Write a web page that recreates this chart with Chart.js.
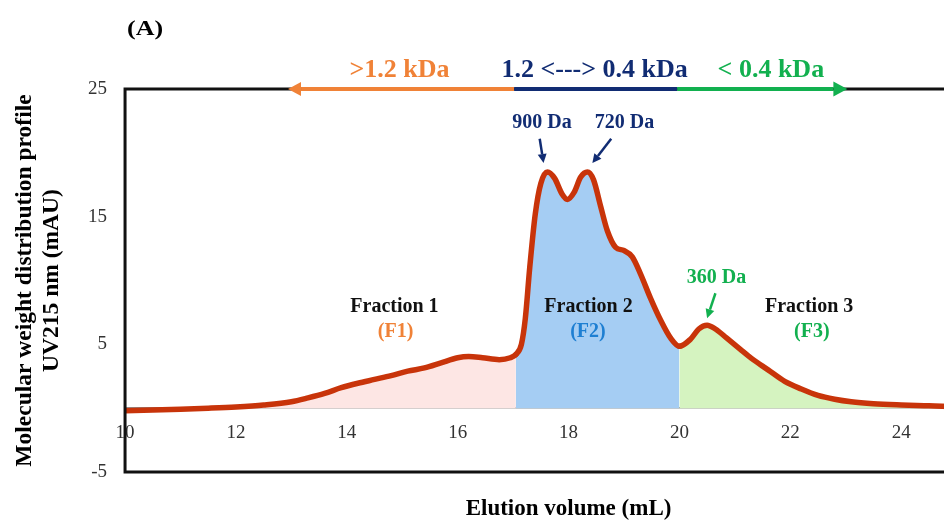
<!DOCTYPE html>
<html>
<head>
<meta charset="utf-8">
<script src="https://cdn.jsdelivr.net/npm/chart.js@4.4.1/dist/chart.umd.min.js"></script>
<style>
  html, body { margin: 0; padding: 0; overflow: hidden; background: #fff; }
  canvas { display: block; }
</style>
</head>
<body>
<canvas id="c" width="1030" height="521"></canvas>
<script>
const SERIF = "'Liberation Serif', 'Times New Roman', serif";

// Elution volume (mL) of each sample point
const elutionVolume = [
  10.0, 10.5, 11.0, 11.5, 12.0, 12.5, 13.0, 13.3, 13.6, 13.9,
  14.2, 14.5, 14.8, 15.1, 15.4, 15.7, 16.0, 16.2, 16.45, 16.75,
  16.95, 17.05, 17.15, 17.22, 17.3, 17.4, 17.5, 17.62, 17.75, 17.88,
  17.98, 18.1, 18.22, 18.34, 18.45, 18.58, 18.7, 18.85, 19.0, 19.15,
  19.3, 19.48, 19.66, 19.84, 20.0, 20.2, 20.35, 20.5, 20.65, 20.85,
  21.1, 21.3, 21.6, 21.9, 22.2, 22.5, 22.8, 23.1, 23.5, 24.0,
  24.5, 25.0, 25.5, 26.0
];

// UV215 absorbance (mAU) at each elution volume
const absorbance = [
  -0.2, -0.15, -0.08, 0.0, 0.1, 0.25, 0.5, 0.8, 1.15, 1.6,
  1.95, 2.25, 2.55, 2.9, 3.15, 3.55, 3.95, 4.05, 3.95, 3.8,
  3.95, 4.2, 5.0, 7.0, 11.0, 15.2, 17.6, 18.5, 18.0, 16.8,
  16.35, 16.9, 18.1, 18.5, 17.9, 15.8, 13.9, 12.6, 12.35, 11.85,
  10.5, 8.6, 6.9, 5.5, 4.85, 5.4, 6.2, 6.5, 6.2, 5.5,
  4.6, 3.9, 3.0, 2.1, 1.5, 1.0, 0.7, 0.5, 0.35, 0.25,
  0.18, 0.12, 0.1, 0.08
];

const xTickValues = [10, 12, 14, 16, 18, 20, 22, 24];
const yTickValues = [-5, 5, 15, 25];

// Fraction cut points (mL): F1 | F2 | F3
const fractionCuts = [17.05, 20.0];
const fractionNames = ['Fraction 1', 'Fraction 2', 'Fraction 3'];
const fractionCodes = ['(F1)', '(F2)', '(F3)'];

// Molecular weight ranges shown along the top edge
const rangeLabels = ['>1.2 kDa', '1.2 <---> 0.4 kDa', '< 0.4 kDa'];
const rangeBounds = [12.94, 17.02, 19.96, 23.03];

// Peak molecular weights
const peakLabels = ['900 Da', '720 Da', '360 Da'];

// ---- styling and annotation placement (data units) ----
const COLORS = {
  line: '#C8340A',
  fills: ['#FDE6E4', '#A5CDF3', '#D5F3C0'],
  codes: ['#F08237', '#1E7FD2', '#12B04F'],
  ranges: ['#F08237', '#112C73', '#12B04F'],
  peaks: ['#112C73', '#112C73', '#12B04F'],
  frame: '#111111',
  ticks: '#333333'
};
const fractionLabelPos = [[14.86, 7.95], [18.36, 7.95], [22.34, 7.9]];
const fractionCodePos = [[14.88, 6.0], [18.35, 6.0], [22.39, 6.0]];
const rangeLabelPos = [[14.95, 26.5], [18.47, 26.5], [21.65, 26.5]];
const peakLabelPos = [[17.52, 22.36], [19.01, 22.36], [20.67, 10.23]];
const peakArrows = [
  [[17.48, 21.1], [17.55, 19.2]],
  [[18.77, 21.1], [18.43, 19.2]],
  [[20.65, 9.0], [20.5, 7.05]]
];

function fractionIndex(x) {
  if (x < fractionCuts[0]) return 0;
  if (x < fractionCuts[1]) return 1;
  return 2;
}

function drawArrow(ctx, x1, y1, x2, y2, color, width, headLen, headHalf) {
  const ang = Math.atan2(y2 - y1, x2 - x1);
  const bx = x2 - headLen * Math.cos(ang);
  const by = y2 - headLen * Math.sin(ang);
  ctx.strokeStyle = color;
  ctx.fillStyle = color;
  ctx.lineWidth = width;
  ctx.lineCap = 'butt';
  ctx.beginPath();
  ctx.moveTo(x1, y1);
  ctx.lineTo(bx, by);
  ctx.stroke();
  ctx.beginPath();
  ctx.moveTo(x2, y2);
  ctx.lineTo(bx + headHalf * Math.sin(ang), by - headHalf * Math.cos(ang));
  ctx.lineTo(bx - headHalf * Math.sin(ang), by + headHalf * Math.cos(ang));
  ctx.closePath();
  ctx.fill();
}

function text(ctx, str, x, y, font, color) {
  ctx.font = font;
  ctx.fillStyle = color;
  ctx.textAlign = 'center';
  ctx.textBaseline = 'middle';
  ctx.fillText(str, x, y);
}

// Plot frame, range bar, peak callouts and fraction labels
const decorations = {
  id: 'decorations',
  afterDatasetsDraw(chart) {
    const { ctx, chartArea: a } = chart;
    ctx.save();
    ctx.strokeStyle = COLORS.frame;
    ctx.lineWidth = 3;
    ctx.beginPath();
    ctx.moveTo(a.right, a.top);
    ctx.lineTo(a.left, a.top);
    ctx.lineTo(a.left, a.bottom);
    ctx.lineTo(a.right, a.bottom);
    ctx.stroke();
    ctx.restore();
  },
  afterDraw(chart) {
    const { ctx, chartArea: a, scales: { x, y } } = chart;
    const px = v => x.getPixelForValue(v);
    const py = v => y.getPixelForValue(v);
    ctx.save();

    // range bar along the top edge
    const top = a.top;
    drawArrow(ctx, px(rangeBounds[1]), top, px(rangeBounds[0]), top, COLORS.ranges[0], 4, 13, 7);
    ctx.strokeStyle = COLORS.ranges[1];
    ctx.lineWidth = 4;
    ctx.beginPath();
    ctx.moveTo(px(rangeBounds[1]), top);
    ctx.lineTo(px(rangeBounds[2]), top);
    ctx.stroke();
    drawArrow(ctx, px(rangeBounds[2]), top, px(rangeBounds[3]), top, COLORS.ranges[2], 4, 14, 7.5);

    rangeLabels.forEach((t, i) => {
      text(ctx, t, px(rangeLabelPos[i][0]), py(rangeLabelPos[i][1]), `bold 26px ${SERIF}`, COLORS.ranges[i]);
    });

    // peak callouts
    peakLabels.forEach((t, i) => {
      text(ctx, t, px(peakLabelPos[i][0]), py(peakLabelPos[i][1]), `bold 20px ${SERIF}`, COLORS.peaks[i]);
      const [from, to] = peakArrows[i];
      drawArrow(ctx, px(from[0]), py(from[1]), px(to[0]), py(to[1]), COLORS.peaks[i], 2.5, 9, 4.5);
    });

    // fraction labels
    fractionNames.forEach((t, i) => {
      text(ctx, t, px(fractionLabelPos[i][0]), py(fractionLabelPos[i][1]), `bold 20px ${SERIF}`, '#111');
      text(ctx, fractionCodes[i], px(fractionCodePos[i][0]), py(fractionCodePos[i][1]), `bold 20px ${SERIF}`, COLORS.codes[i]);
    });

    // panel tag
    ctx.save();
    ctx.translate(a.left + 20, a.top - 59);
    ctx.scale(1.3, 1);
    text(ctx, '(A)', 0, 0, `bold 20px ${SERIF}`, '#000');
    ctx.restore();

    ctx.restore();
  }
};

const points = elutionVolume.map((v, i) => ({ x: v, y: absorbance[i] }));

new Chart(document.getElementById('c'), {
  type: 'line',
  data: {
    datasets: [{
      data: points,
      borderColor: COLORS.line,
      borderWidth: 5.5,
      borderCapStyle: 'round',
      borderJoinStyle: 'round',
      pointRadius: 0,
      cubicInterpolationMode: 'monotone',
      fill: 'origin',
      backgroundColor: COLORS.fills[0],
      segment: {
        backgroundColor: ctx => COLORS.fills[fractionIndex(ctx.p0.parsed.x)]
      }
    }]
  },
  options: {
    responsive: false,
    animation: false,
    devicePixelRatio: 1,
    layout: { padding: { left: 7, top: 89, right: 18, bottom: 0 } },
    plugins: {
      legend: { display: false },
      tooltip: { enabled: false },
      title: {
        display: true,
        position: 'bottom',
        fullSize: false,
        text: 'Elution volume (mL)',
        color: '#000',
        font: { family: SERIF, size: 23, weight: 'bold', lineHeight: 1 },
        padding: { top: 26, bottom: 0 }
      }
    },
    scales: {
      x: {
        type: 'linear',
        min: 10,
        max: 26,
        position: { y: 0 },
        grid: { display: false, drawTicks: false },
        border: { display: true, color: '#8f8f8f', width: 1.5 },
        afterBuildTicks: axis => { axis.ticks = xTickValues.map(v => ({ value: v })); },
        ticks: {
          font: { family: SERIF, size: 19 },
          color: COLORS.ticks,
          padding: 13,
          maxRotation: 0,
          autoSkip: false
        }
      },
      y: {
        type: 'linear',
        min: -5,
        max: 25,
        position: 'left',
        grid: { display: false, drawTicks: false },
        border: { display: false },
        afterBuildTicks: axis => { axis.ticks = yTickValues.map(v => ({ value: v })); },
        ticks: {
          font: { family: SERIF, size: 19 },
          color: COLORS.ticks,
          padding: 18
        },
        title: {
          display: true,
          text: ['Molecular weight distribution profile', 'UV215 nm (mAU)'],
          color: '#000',
          font: { family: SERIF, size: 23.5, weight: 'bold', lineHeight: 1.15 },
          padding: { top: 4, bottom: 5 }
        }
      }
    }
  },
  plugins: [decorations]
});
</script>
</body>
</html>
